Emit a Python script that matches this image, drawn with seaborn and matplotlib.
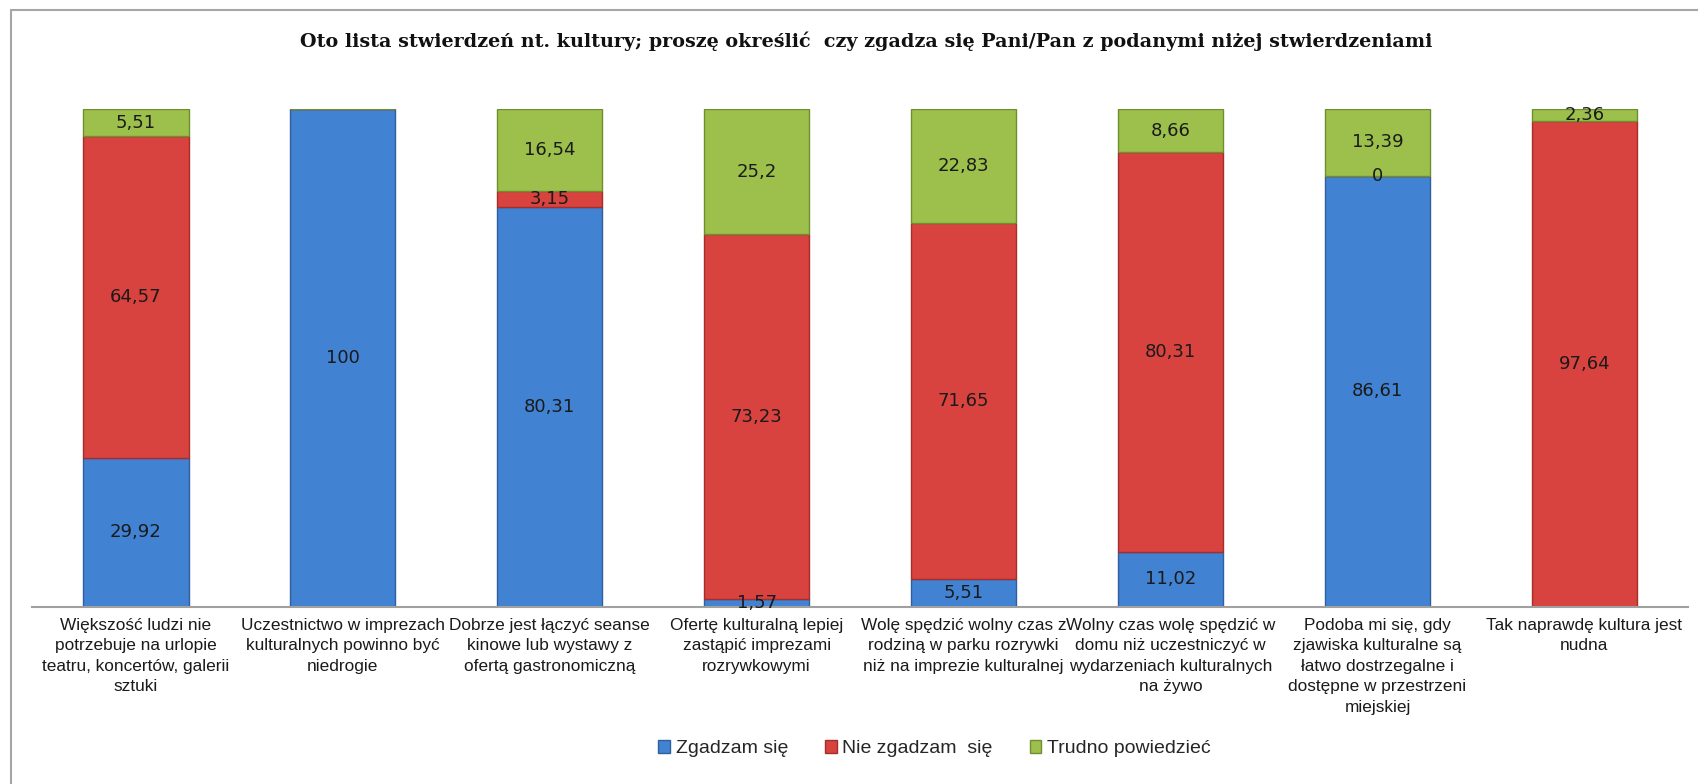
import numpy as np
import pandas as pd
import seaborn as sns

import matplotlib
matplotlib.use('Agg')
import matplotlib.pyplot as plt
from matplotlib.patches import Patch
from matplotlib.lines import Line2D

# statements (already wrapped like in the source chart)
categories = [
    "Większość ludzi nie\npotrzebuje na urlopie\nteatru, koncertów, galerii\nsztuki",
    "Uczestnictwo w imprezach\nkulturalnych powinno być\nniedrogie",
    "Dobrze jest łączyć seanse\nkinowe lub wystawy z\nofertą gastronomiczną",
    "Ofertę kulturalną lepiej\nzastąpić imprezami\nrozrywkowymi",
    "Wolę spędzić wolny czas z\nrodziną w parku rozrywki\nniż na imprezie kulturalnej",
    "Wolny czas wolę spędzić w\ndomu niż uczestniczyć w\nwydarzeniach kulturalnych\nna żywo",
    "Podoba mi się, gdy\nzjawiska kulturalne są\nłatwo dostrzegalne i\ndostępne w przestrzeni\nmiejskiej",
    "Tak naprawdę kultura jest\nnudna",
]

# nan = no value / no label in the source
zgadzam = [29.92, 100, 80.31, 1.57, 5.51, 11.02, 86.61, np.nan]
nie_zgadzam = [64.57, np.nan, 3.15, 73.23, 71.65, 80.31, 0, 97.64]
trudno = [5.51, np.nan, 16.54, 25.2, 22.83, 8.66, 13.39, 2.36]

series_names = ["Zgadzam się", "Nie zgadzam  się", "Trudno powiedzieć"]
title = ("Oto lista stwierdzeń nt. kultury; proszę określić  czy zgadza się "
         "Pani/Pan z podanymi niżej stwierdzeniami")

colors = ["#4282d2", "#d8423f", "#9cc04b"]
edges = ["#2f5f9e", "#a32e2c", "#6f8f2f"]

sns.set_theme(style="white")
plt.rcParams['font.family'] = ['Liberation Sans', 'DejaVu Sans']

fig = plt.figure(figsize=(16.99, 7.84), dpi=100)
ax = fig.add_axes([0.019, 0.226, 0.9745, 0.635])


def fmt(v):
    return f"{v:g}".replace(".", ",")


bottom = np.zeros(len(categories))
for vals, col, ec in zip([zgadzam, nie_zgadzam, trudno], colors, edges):
    h = np.nan_to_num(np.array(vals, dtype=float))
    df = pd.DataFrame({"cat": categories, "val": h})
    sns.barplot(data=df, x="cat", y="val", order=categories, color=col,
                saturation=1, width=0.51, bottom=bottom.copy(), edgecolor=ec,
                linewidth=1, errorbar=None, ax=ax)
    for i, v in enumerate(vals):
        if not np.isnan(v):
            ax.text(i, bottom[i] + h[i] / 2, fmt(v), ha="center", va="center",
                    fontsize=13, color="#1a1a1a", family="DejaVu Sans")
    bottom += h

ax.set_ylim(0, 100)
ax.set_xlim(-0.5, len(categories) - 0.5)
ax.set_yticks([])
ax.set_xlabel("")
ax.set_ylabel("")
ax.tick_params(axis="x", length=0, pad=8, labelsize=12.4, colors="#1a1a1a")
for lbl in ax.get_xticklabels():
    lbl.set_linespacing(1.45)
for s in ["top", "right", "left"]:
    ax.spines[s].set_visible(False)
ax.spines["bottom"].set_color("#a0a0a0")
ax.spines["bottom"].set_linewidth(1.5)

fig.text(0.51, 0.948, title, ha="center", va="center", fontsize=13.8,
         fontweight="bold", family="DejaVu Serif", color="#111111")

handles = [Patch(facecolor=c, edgecolor=e, label=n)
           for c, e, n in zip(colors, edges, series_names)]
fig.legend(handles=handles, loc="center", bbox_to_anchor=(0.55, 0.045), ncol=3,
           frameon=False, fontsize=14, handlelength=0.6, handleheight=0.6,
           columnspacing=1.9, handletextpad=0.3)

# outer chart frame (top and left edges visible)
fig.add_artist(Line2D([11 / 1699, 11 / 1699], [0, 1 - 10 / 784],
                      transform=fig.transFigure, color="#a6a6a6", lw=1.5))
fig.add_artist(Line2D([11 / 1699, 1], [1 - 10 / 784, 1 - 10 / 784],
                      transform=fig.transFigure, color="#a6a6a6", lw=1.5))

fig.savefig("out.png", dpi=100)
plt.close('all')
